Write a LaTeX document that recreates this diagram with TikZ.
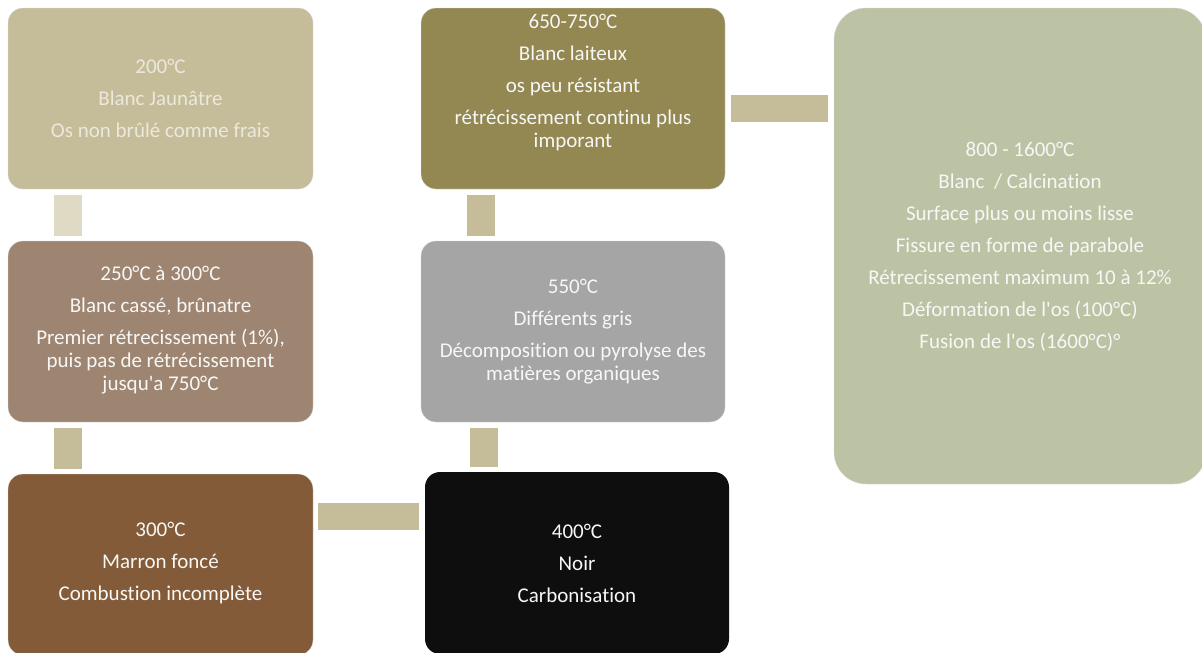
\documentclass[tikz,border=0pt]{standalone}
\usepackage{fontspec}
\setmainfont{Carlito}[Ligatures={TeXOff,NoCommon}]
\usetikzlibrary{calc}
\definecolor{cA}{HTML}{C5BD99}
\definecolor{cB}{HTML}{9E8571}
\definecolor{cC}{HTML}{835B38}
\definecolor{cD}{HTML}{938752}
\definecolor{cE}{HTML}{A5A5A5}
\definecolor{cF}{HTML}{0E0E0E}
\definecolor{cG}{HTML}{BCC3A5}
\definecolor{connlight}{HTML}{DEDAC4}
\definecolor{connc}{HTML}{C5BD99}
\definecolor{txtfaint}{HTML}{ECE8DC}
\definecolor{txtw}{HTML}{F7F7F5}
\tikzset{
  box/.style={rectangle, rounded corners=15pt, draw=white!85!black, line width=0.4pt, inner sep=0pt},
  bigbox/.style={box, rounded corners=32pt},
  txt/.style={align=center, text=txtw, font=\fontsize{21}{23}\selectfont, inner sep=0pt},
  conn/.style={draw=connc, line width=28pt, line cap=butt},
}
\begin{document}
\begin{tikzpicture}[x=1pt,y=-1pt]
\useasboundingbox (0,0) rectangle (1202,653);
% boxes
\node[box, fill=cA, minimum width=305pt, minimum height=181pt] (b1) at (160.5,98.5) {};
\node[box, fill=cB, minimum width=305pt, minimum height=181pt] (b2) at (160.5,331.5) {};
\node[box, fill=cC, minimum width=305pt, minimum height=181pt] (b3) at (160.5,564.5) {};
\node[box, fill=cD, minimum width=304pt, minimum height=181pt] (b4) at (573,98.5) {};
\node[box, fill=cE, minimum width=304pt, minimum height=181pt] (b5) at (573,331.5) {};
\node[box, fill=cF, minimum width=304pt, minimum height=182pt, draw=none] (b6) at (577,563) {};
\node[bigbox, fill=cG, minimum width=372pt, minimum height=476pt] (b7) at (1020,246) {};
% texts
\node[txt, text=txtfaint] (t1) at (b1.center) {200°C\\[9pt]Blanc Jaunâtre\\[9pt]Os non brûlé comme frais};
\node[txt] (t2) at ($(b2.center)+(0,-1)$) {250°C à 300°C\\[9pt]Blanc cassé, brûnatre\\[9pt]Premier rétrecissement (1\%),\\puis pas de rétrécissement\\jusqu'a 750°C};
\node[txt] (t3) at ($(b3.center)+(0,-1)$) {300°C\\[9pt]Marron foncé\\[9pt]Combustion incomplète};
\node[txt] (t4) at ($(b4.center)+(0,-16)$) {650-750°C\\[9pt]Blanc laiteux\\[9pt]os peu résistant\\[9pt]rétrécissement continu plus\\imporant};
\node[txt] (t5) at (b5.center) {550°C\\[9pt]Différents gris\\[9pt]Décomposition ou pyrolyse des\\matières organiques};
\node[txt] (t6) at (b6.center) {400°C\\[9pt]Noir\\[9pt]Carbonisation};
\node[txt] (t7) at ($(b7.center)+(0,1)$) {800 - 1600°C\\[9pt]Blanc~ / Calcination\\[9pt]Surface plus ou moins lisse\\[9pt]Fissure en forme de parabole\\[9pt]Rétrecissement maximum 10 à 12\%\\[9pt]Déformation de l'os (100°C)\\[9pt]Fusion de l'os (1600°C)°};
% connectors
\draw[conn, draw=connlight] ($(b1.south west)+(60,6)$) -- ($(b2.north west)+(60,-5)$);
\draw[conn] ($(b2.south west)+(60,6)$) -- ($(b3.north west)+(60,-5)$);
\draw[conn, line width=27pt] ($(b3.north east)+(5,42.5)$) -- ($(b6.north west)+(-6,44.5)$);
\draw[conn] ($(b6.north west)+(59,-5)$) -- ($(b5.south west)+(63,6)$);
\draw[conn] ($(b5.north west)+(60,-5)$) -- ($(b4.south west)+(60,6)$);
\draw[conn, line width=27pt] ($(b4.north east)+(6,100.5)$) -- ($(b7.north west)+(-6,100.5)$);
\end{tikzpicture}
\end{document}
